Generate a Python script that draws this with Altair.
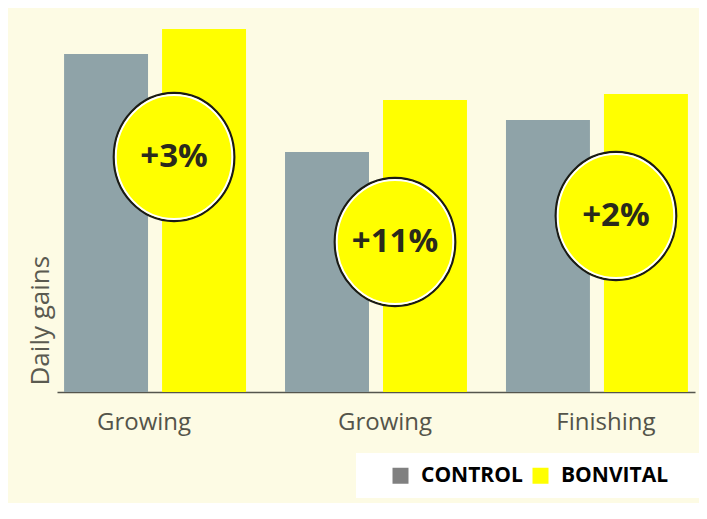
import altair as alt
import pandas as pd

# ---- data ----
stages = ["Growing|1", "Growing|2", "Finishing|3"]
control = [338, 240, 272]
bonvital = [363, 292, 298]
gain_labels = ["+3%", "+11%", "+2%"]
label_pos = [235, 150, 176]  # vertical anchor of the % badges (same units)
series = ["CONTROL", "BONVITAL"]

bars = pd.DataFrame(
    {
        "stage": stages * 2,
        "series": [series[0]] * 3 + [series[1]] * 3,
        "value": control + bonvital,
    }
)
legend_df = pd.DataFrame({"key": series, "stage": [stages[0]] * 2, "value": [0, 0]})
badges = pd.DataFrame({"stage": stages, "label": gain_labels, "pos": label_pos})

BG = "#fdfbe4"
GREY = "#8fa3a8"
YELLOW = "#ffff00"
FONT = "Open Sans"
BLANK = "\u2800"

x_scale = alt.Scale(domain=stages, paddingInner=0.1765, paddingOuter=0.032)
y_scale = alt.Scale(domain=[0, 384], nice=False, zero=True)

x_enc = alt.X(
    "stage:N",
    scale=x_scale,
    sort=stages,
    axis=alt.Axis(
        title=None,
        labelExpr="split(datum.value, '|')[0]",
        labelAngle=0,
        labelFont=FONT,
        labelFontSize=24,
        labelColor="#54544a",
        labelPadding=18,
        labelOffset=alt.ExprRef(expr="datum.index == 0 ? -11 : 9"),
        ticks=False,
        domainColor="#55554d",
        domainWidth=1.5,
    ),
)
y_enc = alt.Y(
    "value:Q",
    scale=y_scale,
    axis=alt.Axis(
        title="Daily gains",
        titleFont=FONT,
        titleFontSize=26,
        titleFontWeight="normal",
        titleColor="#5a5a50",
        titleAnchor="start",
        titleAlign="left",
        titleY=377,
        titlePadding=4,
        labels=False,
        ticks=False,
        domain=False,
        grid=False,
    ),
)

bar_layer = (
    alt.Chart(bars)
    .mark_bar()
    .encode(
        x=x_enc,
        xOffset=alt.XOffset(
            "series:N", sort=series, scale=alt.Scale(domain=series, paddingInner=0.143, paddingOuter=0)
        ),
        y=y_enc,
        fill=alt.Fill("series:N", scale=alt.Scale(domain=series, range=[GREY, YELLOW]), legend=None),
    )
)

legend_layer = (
    alt.Chart(legend_df)
    .mark_square(opacity=0)
    .encode(
        x=alt.X("stage:N", sort=stages, scale=x_scale),
        y=alt.Y("value:Q", scale=y_scale),
        color=alt.Color(
            "key:N",
            scale=alt.Scale(domain=series, range=["#808080", YELLOW]),
            legend=alt.Legend(
                title=" ",
                titleOrient="left",
                titlePadding=22,
                titleFontSize=18,
                orient="none",
                direction="horizontal",
                legendX=299,
                legendY=445,
                fillColor="white",
                padding=12,
                symbolType="square",
                symbolSize=256,
                symbolOpacity=1,
                symbolStrokeWidth=0,
                labelExpr="datum.label == 'BONVITAL' ? datum.label + '" + BLANK * 2 + "' : datum.label",
                labelFont=FONT,
                labelFontSize=21,
                labelFontWeight="bold",
                labelColor="black",
                labelOffset=10,
                columnPadding=7,
            ),
        ),
    )
)

ELLIPSE = "M -0.94,0 A 0.94,1 0 1,0 0.94,0 A 0.94,1 0 1,0 -0.94,0 Z"

badge_fill = (
    alt.Chart(badges)
    .mark_point(
        shape=ELLIPSE, size=16384, filled=True, fill=YELLOW, stroke="#1a1a14",
        strokeWidth=2.5, opacity=1, xOffset=19,
    )
    .encode(x=alt.X("stage:N", sort=stages, scale=x_scale), y=alt.Y("pos:Q", scale=y_scale))
)
badge_ring = (
    alt.Chart(badges)
    .mark_point(
        shape=ELLIPSE, size=15376, filled=False, stroke="white", strokeWidth=2,
        opacity=1, xOffset=19,
    )
    .encode(x=alt.X("stage:N", sort=stages, scale=x_scale), y=alt.Y("pos:Q", scale=y_scale))
)
badge_text = (
    alt.Chart(badges)
    .mark_text(font=FONT, fontSize=33, fontWeight="bold", color="#2a2a1c", xOffset=19)
    .encode(
        x=alt.X("stage:N", sort=stages, scale=x_scale),
        y=alt.Y("pos:Q", scale=y_scale),
        text="label:N",
    )
)

chart = (
    alt.layer(bar_layer, legend_layer, badge_fill, badge_ring, badge_text)
    .resolve_legend(color="independent", fill="independent")
    .properties(
        width=638,
        height=384,
        autosize=alt.AutoSizeParams(type="none"),
        padding={"left": 49, "top": 0, "right": 4, "bottom": 111},
        background=BG,
    )
    .configure_view(stroke=None)
)

chart.save("out.html", embed_options={"renderer": "svg", "actions": False})
